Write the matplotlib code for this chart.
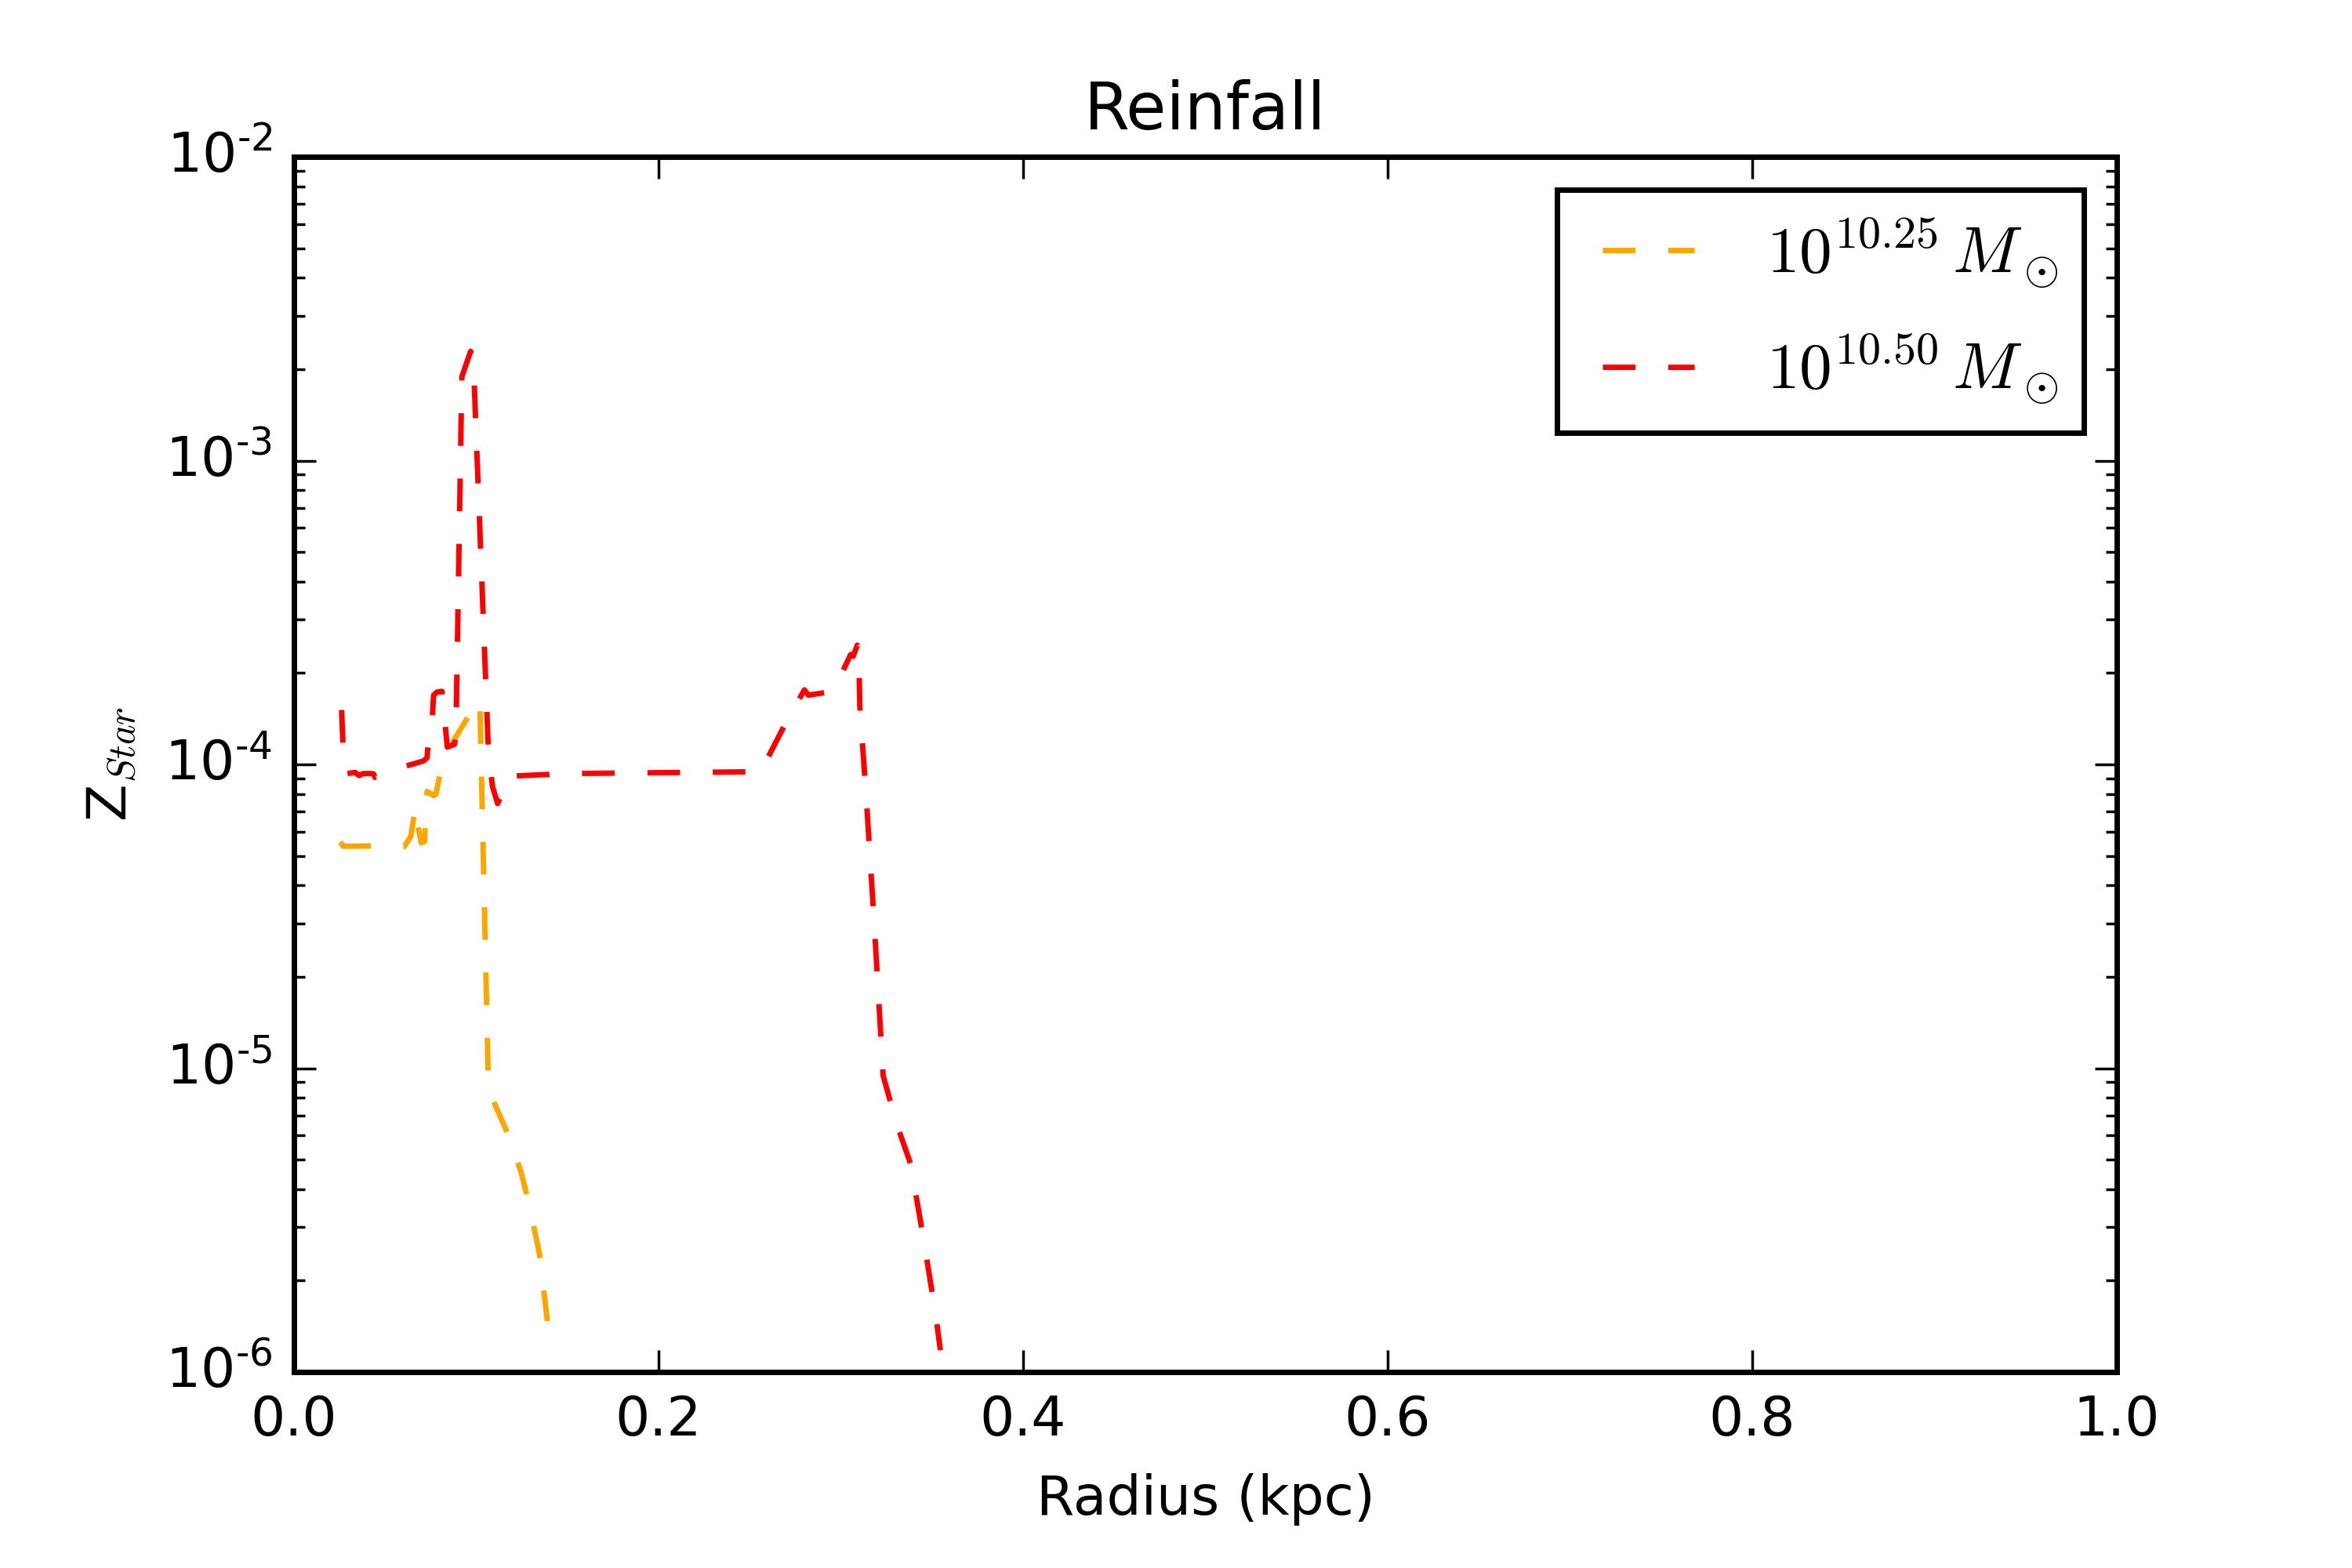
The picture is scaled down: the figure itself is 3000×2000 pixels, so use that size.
import numpy as np
import matplotlib
matplotlib.use('Agg')
import matplotlib.pyplot as plt
from matplotlib.ticker import FuncFormatter

# Reinfall metallicity profiles
radius_1025 = [0.0254, 0.0271, 0.0426, 0.0604, 0.0641, 0.0658, 0.0669, 0.0680,
               0.0698, 0.0716, 0.0720, 0.0730, 0.0766, 0.0778, 0.0802, 0.0880,
               0.0957, 0.0990, 0.1020, 0.1067, 0.1175, 0.1244, 0.1289, 0.1347,
               0.1390]
zstar_1025 = [5.55e-5, 5.38e-5, 5.39e-5, 5.36e-5, 5.80e-5, 6.73e-5, 7.30e-5, 6.25e-5,
              5.52e-5, 5.57e-5, 6.25e-5, 8.15e-5, 7.89e-5, 7.97e-5, 9.33e-5, 1.21e-4,
              1.44e-4, 1.63e-4, 1.56e-4, 8.49e-6, 6.05e-6, 4.58e-6, 3.59e-6, 2.44e-6,
              1.47e-6]

radius_1050 = [0.0261, 0.0275, 0.0293, 0.0314, 0.0336, 0.0357, 0.0379, 0.0422,
               0.0437, 0.0444, 0.0613, 0.0709, 0.0730, 0.0733, 0.0759, 0.0766,
               0.0784, 0.0812, 0.0841, 0.0881, 0.0888, 0.0921, 0.0969, 0.0984,
               0.1046, 0.1067, 0.1089, 0.1117, 0.1153, 0.1175, 0.1500, 0.2560,
               0.2687, 0.2800, 0.2822, 0.2956, 0.2975, 0.3054, 0.3068, 0.3090,
               0.3098, 0.3104, 0.3140, 0.3185, 0.3232, 0.3305, 0.3383, 0.3455,
               0.3520, 0.3546]
zstar_1050 = [1.51e-4, 9.50e-5, 9.33e-5, 9.37e-5, 9.41e-5, 9.19e-5, 9.33e-5, 9.33e-5,
              9.30e-5, 9.06e-5, 9.87e-5, 1.026e-4, 1.051e-4, 1.114e-4, 1.44e-4, 1.69e-4,
              1.73e-4, 1.74e-4, 1.14e-4, 1.165e-4, 1.245e-4, 1.89e-3, 2.29e-3, 2.13e-3,
              2.30e-4, 1.09e-4, 8.45e-5, 7.43e-5, 8.32e-5, 9.14e-5, 9.33e-5, 9.46e-5,
              1.33e-4, 1.76e-4, 1.69e-4, 1.74e-4, 1.83e-4, 2.30e-4, 2.27e-4, 2.47e-4,
              2.42e-4, 1.56e-4, 7.70e-5, 2.87e-5, 9.45e-6, 6.58e-6, 4.84e-6, 2.71e-6,
              1.55e-6, 1.18e-6]

labels = [r'$10^{10.25}\,M_\odot$', r'$10^{10.50}\,M_\odot$']

plt.style.use('classic')
plt.rcParams['font.size'] = 10
plt.rcParams['axes.unicode_minus'] = False
plt.rcParams['mathtext.fontset'] = 'cm'


def log_label(y, pos):
    # short hyphen in the exponent, as in the original
    e = int(round(np.log10(y)))
    sign = '\u2010' if e < 0 else ''
    return r'$\mathdefault{10^{%s%d}}$' % (sign, abs(e))


fig = plt.figure(figsize=(6, 4))
fig.subplots_adjust(left=0.125, right=0.9, bottom=0.125, top=0.9)
ax = fig.add_subplot(111)

ax.plot(radius_1025, zstar_1025, '--', color='orange', label=labels[0])
ax.plot(radius_1050, zstar_1050, '--', color='red', label=labels[1])

ax.set_yscale('log')
ax.set_xlim(0.0, 1.0)
ax.set_ylim(1e-6, 1e-2)
ax.set_xticks([0.0, 0.2, 0.4, 0.6, 0.8, 1.0])
ax.yaxis.set_major_formatter(FuncFormatter(log_label))
ax.set_title('Reinfall')
ax.set_xlabel('Radius (kpc)')
ax.set_ylabel('Z$_{Star}$')

ax.legend(loc='upper right', labelspacing=0.65)

plt.savefig('out.png', dpi=500)
